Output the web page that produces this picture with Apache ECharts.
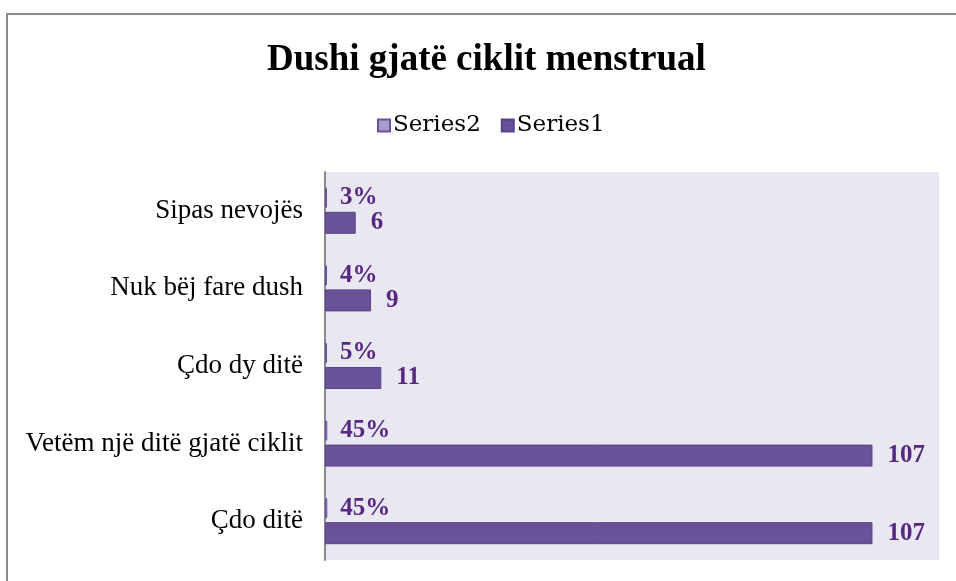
<!DOCTYPE html>
<html>
<head>
<meta charset="utf-8">
<script src="https://cdn.jsdelivr.net/npm/echarts@6/dist/echarts.min.js"></script>
<style>
  html, body { margin: 0; padding: 0; background: #fff; }
  #main { width: 956px; height: 581px; }
</style>
</head>
<body>
<div id="main"></div>
<script>
// categories bottom to top (category axis starts at the bottom)
var categories = ['Çdo ditë', 'Vetëm një ditë gjatë ciklit', 'Çdo dy ditë', 'Nuk bëj fare dush', 'Sipas nevojës'];
var series1 = [107, 107, 11, 9, 6];
var series2 = [0.45, 0.45, 0.05, 0.04, 0.03];

var chartDom = document.getElementById('main');
var myChart = echarts.init(chartDom);
var serif = '"Liberation Serif", "DejaVu Serif", serif';
var labelColor = '#55297f';

var option = {
  animation: false,
  textStyle: { fontFamily: serif },
  title: {
    text: 'Dushi gjatë ciklit menstrual',
    left: 262,
    top: 37,
    textStyle: { fontFamily: serif, fontSize: 37, fontWeight: 'bold', color: '#000' }
  },
  legend: {
    data: ['Series2', 'Series1'],
    left: 372,
    top: 109,
    icon: 'rect',
    itemWidth: 12,
    itemHeight: 12,
    itemGap: 20,
    textStyle: { fontFamily: '"DejaVu Serif", serif', fontSize: 23, color: '#000', padding: [0, 0, 0, -2] }
  },
  graphic: [{
    type: 'rect',
    shape: { x: 7, y: 14, width: 1100, height: 1000 },
    style: { fill: 'none', stroke: '#8c8c8c', lineWidth: 2 },
    silent: true
  }],
  grid: {
    left: 325,
    top: 172,
    right: 17,
    bottom: 21,
    show: true,
    backgroundColor: '#e9e7f2',
    borderWidth: 0
  },
  xAxis: {
    type: 'value',
    min: 0,
    max: 120,
    axisLabel: { show: false },
    axisLine: { show: false },
    axisTick: { show: false },
    splitLine: { show: false }
  },
  yAxis: {
    type: 'category',
    data: categories,
    axisLine: { show: true, lineStyle: { color: '#8a8a8a', width: 2 } },
    axisTick: { show: false },
    axisLabel: { fontFamily: serif, fontSize: 27, color: '#000', margin: 22 }
  },
  series: [
    {
      name: 'Series2',
      type: 'bar',
      data: series2,
      barWidth: 20,
      barGap: '20%',
      barMinHeight: 2,
      itemStyle: { color: '#a99bcb', borderColor: '#6a529a', borderWidth: 1 },
      label: {
        show: true,
        position: 'right',
        distance: 13,
        fontFamily: serif,
        fontSize: 25,
        fontWeight: 'bold',
        color: labelColor,
        formatter: function (p) { return Math.round(p.value * 100) + '%'; }
      }
    },
    {
      name: 'Series1',
      type: 'bar',
      data: series1,
      barWidth: 22,
      barGap: '20%',
      itemStyle: { color: '#6a529a', borderColor: '#57448a', borderWidth: 1 },
      label: {
        show: true,
        position: 'right',
        distance: 15,
        fontFamily: serif,
        fontSize: 25,
        fontWeight: 'bold',
        color: labelColor
      }
    }
  ]
};

option && myChart.setOption(option);
</script>
</body>
</html>
